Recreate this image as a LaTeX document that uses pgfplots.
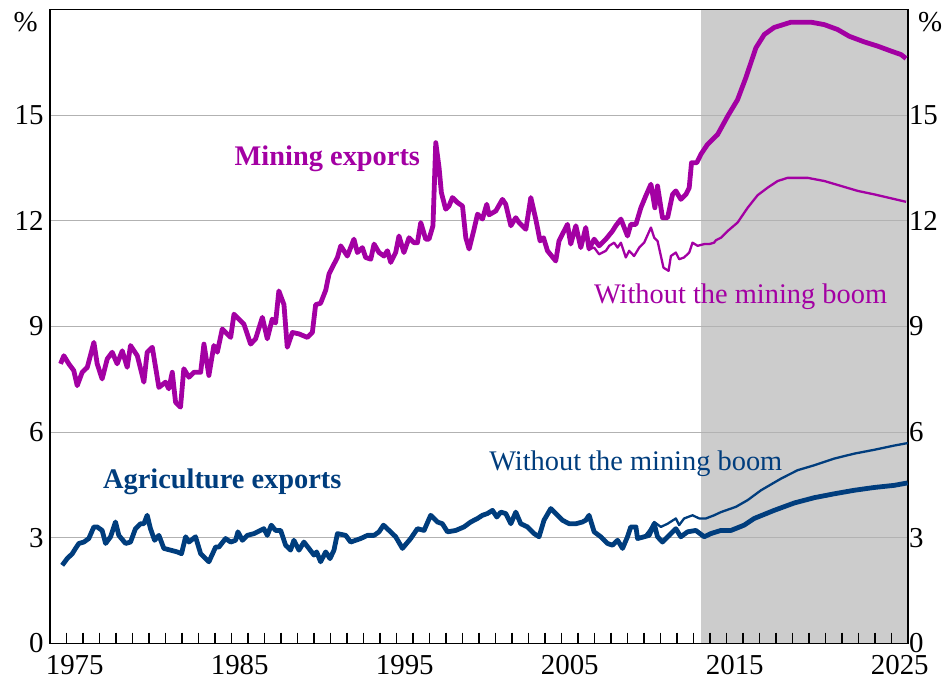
\documentclass[border=0pt]{standalone}
\usepackage{fontspec}
\setmainfont{Liberation Serif}
\usepackage{pgfplots}
\pgfplotsset{compat=1.18}
\definecolor{mpurple}{RGB}{163,0,163}
\definecolor{mblue}{RGB}{0,61,125}
\definecolor{shadec}{RGB}{204,204,204}
\definecolor{gridc}{RGB}{178,178,178}
\begin{document}
\begin{tikzpicture}
\pgfplotsset{every axis/.append style={font=\fontsize{28.5}{32}\selectfont},
  /pgf/number format/assume math mode=true}
\begin{axis}[
  scale only axis, width=858bp, height=634bp,
  xmin=1974, xmax=2026, ymin=0, ymax=18,
  set layers, clip mode=individual,
  axis line style={line width=1.3bp, black},
  xtick={1975.5,1985.5,1995.5,2005.5,2015.5,2025.5},
  xticklabels={1975,1985,1995,2005,2015,2025},
  major tick length=0pt, tick style={draw=none},
  xticklabel style={yshift=-8bp, font=\fontsize{29}{32}\selectfont},
  ytick={0,3,...,15},
  yticklabel style={xshift=-3bp, font=\fontsize{29}{32}\selectfont},
  ymajorgrids, grid style={gridc, line width=1.3bp},
  line join=round,
]
\addplot[fill=shadec, draw=none, on layer=axis background] coordinates {(2013.45,18) (2026,18)} \closedcycle;
% yearly tick marks along the bottom axis (vertical bar markers)
\addplot[only marks, mark=|, mark size=5.5bp, mark options={draw=black, line width=1.6bp}] coordinates {
(1975,0.156) (1976,0.156) (1977,0.156) (1978,0.156) (1979,0.156) (1980,0.156) (1981,0.156) (1982,0.156)
(1983,0.156) (1984,0.156) (1985,0.156) (1986,0.156) (1987,0.156) (1988,0.156) (1989,0.156) (1990,0.156)
(1991,0.156) (1992,0.156) (1993,0.156) (1994,0.156) (1995,0.156) (1996,0.156) (1997,0.156) (1998,0.156)
(1999,0.156) (2000,0.156) (2001,0.156) (2002,0.156) (2003,0.156) (2004,0.156) (2005,0.156) (2006,0.156)
(2007,0.156) (2008,0.156) (2009,0.156) (2010,0.156) (2011,0.156) (2012,0.156) (2013,0.156) (2014,0.156)
(2015,0.156) (2016,0.156) (2017,0.156) (2018,0.156) (2019,0.156) (2020,0.156) (2021,0.156) (2022,0.156)
(2023,0.156) (2024,0.156) (2025,0.156)
};

% Mining without boom (thin)
\addplot[mpurple, line width=2.3bp] coordinates {
(2006.67,11.20) (2006.98,11.24) (2007.28,11.05) (2007.69,11.15) (2007.89,11.29) (2008.19,11.38)
(2008.40,11.24) (2008.60,11.38) (2008.90,10.96) (2009.10,11.15) (2009.40,11.00) (2009.71,11.24)
(2010.01,11.38) (2010.42,11.81) (2010.62,11.52) (2010.82,11.43) (2011.18,10.67) (2011.49,10.58)
(2011.63,11.00) (2011.93,11.10) (2012.13,10.91) (2012.43,10.96) (2012.74,11.10) (2012.94,11.38)
(2013.25,11.29) (2013.65,11.34) (2013.95,11.34) (2014.25,11.38) (2014.36,11.45) (2014.66,11.52)
(2015.07,11.71) (2015.67,11.95) (2016.28,12.37) (2016.89,12.73) (2017.49,12.94) (2018.10,13.13)
(2018.70,13.22) (2019.92,13.22) (2020.93,13.13) (2021.94,12.99) (2022.95,12.85) (2023.96,12.75)
(2024.97,12.64) (2025.88,12.54)
};
% Mining exports (thick)
\addplot[mpurple, line width=4.8bp] coordinates {
(1974.64,7.94) (1974.84,8.17) (1975.14,7.94) (1975.44,7.75) (1975.65,7.32) (1975.95,7.70)
(1976.26,7.84) (1976.66,8.55) (1976.86,7.94) (1977.16,7.51) (1977.47,8.08) (1977.77,8.27)
(1978.07,7.94) (1978.38,8.31) (1978.68,7.84) (1978.88,8.46) (1979.29,8.17) (1979.69,7.42)
(1979.89,8.27) (1980.20,8.41) (1980.60,7.27) (1981.00,7.42) (1981.20,7.23) (1981.41,7.70)
(1981.61,6.85) (1981.91,6.71) (1982.11,7.80) (1982.42,7.56) (1982.72,7.70) (1983.13,7.70)
(1983.33,8.50) (1983.63,7.61) (1983.93,8.46) (1984.14,8.27) (1984.44,8.93) (1984.95,8.69)
(1985.15,9.35) (1985.45,9.21) (1985.75,9.07) (1986.16,8.50) (1986.46,8.65) (1986.87,9.26)
(1987.17,8.65) (1987.47,9.21) (1987.67,9.10) (1987.87,10.01) (1988.18,9.62) (1988.38,8.41)
(1988.69,8.83) (1989.09,8.79) (1989.60,8.69) (1989.90,8.83) (1990.10,9.62) (1990.40,9.66)
(1990.71,10.03) (1990.91,10.49) (1991.21,10.77) (1991.42,10.96) (1991.62,11.29) (1992.02,11.00)
(1992.42,11.48) (1992.63,11.10) (1992.93,11.24) (1993.13,10.96) (1993.44,10.91) (1993.64,11.34)
(1993.94,11.10) (1994.24,11.00) (1994.45,11.15) (1994.65,10.82) (1994.95,11.10) (1995.15,11.57)
(1995.45,11.10) (1995.76,11.52) (1996.06,11.38) (1996.27,11.38) (1996.47,11.95) (1996.77,11.48)
(1996.97,11.48) (1997.21,11.86) (1997.38,14.22) (1997.58,13.51) (1997.72,12.80) (1997.98,12.33)
(1998.18,12.42) (1998.39,12.66) (1998.69,12.52) (1999.00,12.42) (1999.20,11.52) (1999.40,11.20)
(1999.70,11.76) (1999.91,12.19) (2000.21,12.05) (2000.47,12.47) (2000.61,12.17) (2001.02,12.28)
(2001.42,12.61) (2001.62,12.47) (2001.93,11.86) (2002.23,12.09) (2002.43,11.95) (2002.84,11.76)
(2003.14,12.66) (2003.44,12.05) (2003.70,11.43) (2003.91,11.52) (2004.15,11.15) (2004.65,10.86)
(2004.85,11.43) (2005.36,11.90) (2005.56,11.34) (2005.87,11.86) (2006.17,11.24) (2006.47,11.81)
(2006.67,11.20) (2006.98,11.48) (2007.28,11.29) (2007.69,11.48) (2008.09,11.71) (2008.29,11.86)
(2008.60,12.05) (2009.00,11.57) (2009.20,11.90) (2009.51,11.90) (2009.81,12.37) (2010.11,12.71)
(2010.42,13.04) (2010.66,12.37) (2010.82,12.99) (2011.12,12.09) (2011.43,12.09) (2011.73,12.75)
(2011.93,12.85) (2012.23,12.61) (2012.54,12.75) (2012.74,12.94) (2012.88,13.65) (2013.20,13.65)
(2013.45,13.89) (2013.85,14.17) (2014.46,14.45) (2015.07,14.97) (2015.67,15.44) (2016.17,16.06)
(2016.78,16.91) (2017.29,17.29) (2017.89,17.49) (2018.91,17.64) (2020.12,17.64) (2020.93,17.57)
(2021.74,17.43) (2022.44,17.24) (2023.35,17.08) (2024.16,16.96) (2024.97,16.82) (2025.58,16.72)
(2025.88,16.61)
};
% Agriculture without boom (thin)
\addplot[mblue, line width=2.3bp] coordinates {
(2010.01,3.03) (2010.31,3.21) (2010.62,3.45) (2011.02,3.31) (2011.43,3.40) (2011.93,3.55)
(2012.13,3.36) (2012.43,3.55) (2012.94,3.64) (2013.35,3.55) (2013.75,3.55) (2014.25,3.64)
(2014.66,3.73) (2015.57,3.88) (2016.28,4.07) (2017.09,4.35) (2018.30,4.68) (2019.31,4.92)
(2020.32,5.06) (2021.53,5.25) (2022.74,5.39) (2023.96,5.50) (2025.17,5.62) (2025.98,5.69)
};
% Agriculture exports (thick)
\addplot[mblue, line width=4.8bp] coordinates {
(1974.74,2.22) (1975.04,2.41) (1975.35,2.55) (1975.55,2.70) (1975.75,2.84) (1976.05,2.88)
(1976.35,2.98) (1976.66,3.31) (1976.86,3.31) (1977.16,3.21) (1977.37,2.84) (1977.67,3.03)
(1977.97,3.45) (1978.17,3.07) (1978.58,2.84) (1978.88,2.88) (1979.18,3.26) (1979.49,3.40)
(1979.69,3.40) (1979.89,3.64) (1980.09,3.26) (1980.34,2.93) (1980.60,3.07) (1980.90,2.70)
(1981.31,2.65) (1981.71,2.60) (1981.97,2.55) (1982.22,3.03) (1982.42,2.88) (1982.82,3.03)
(1983.13,2.55) (1983.63,2.32) (1984.04,2.74) (1984.24,2.74) (1984.64,2.98) (1984.95,2.88)
(1985.25,2.93) (1985.39,3.17) (1985.66,2.93) (1985.96,3.07) (1986.36,3.12) (1986.96,3.26)
(1987.17,3.07) (1987.41,3.36) (1987.67,3.21) (1987.98,3.21) (1988.28,2.79) (1988.58,2.65)
(1988.78,2.93) (1989.09,2.65) (1989.39,2.88) (1989.69,2.70) (1990.00,2.51) (1990.16,2.60)
(1990.40,2.32) (1990.71,2.60) (1990.97,2.41) (1991.21,2.65) (1991.42,3.12) (1991.92,3.07)
(1992.22,2.88) (1992.83,2.98) (1993.24,3.07) (1993.64,3.07) (1993.94,3.17) (1994.21,3.36)
(1994.55,3.21) (1994.95,3.03) (1995.36,2.70) (1995.86,2.98) (1996.27,3.26) (1996.67,3.21)
(1997.07,3.64) (1997.48,3.45) (1997.78,3.40) (1998.09,3.17) (1998.59,3.21) (1999.09,3.31)
(1999.50,3.45) (1999.91,3.55) (2000.21,3.64) (2000.51,3.69) (2000.82,3.78) (2001.08,3.59)
(2001.32,3.73) (2001.62,3.69) (2001.93,3.40) (2002.23,3.73) (2002.53,3.40) (2002.94,3.31)
(2003.34,3.12) (2003.64,3.03) (2003.94,3.50) (2004.35,3.83) (2004.65,3.69) (2005.06,3.50)
(2005.46,3.40) (2005.87,3.40) (2006.27,3.45) (2006.47,3.50) (2006.67,3.64) (2006.98,3.17)
(2007.38,3.03) (2007.79,2.84) (2008.09,2.79) (2008.40,2.93) (2008.70,2.70) (2009.00,3.03)
(2009.20,3.31) (2009.51,3.31) (2009.61,2.98) (2010.01,3.03) (2010.31,3.07) (2010.62,3.40)
(2010.82,3.03) (2011.12,2.88) (2011.53,3.07) (2011.93,3.26) (2012.23,3.03) (2012.64,3.17)
(2013.14,3.21) (2013.65,3.03) (2014.05,3.12) (2014.66,3.21) (2015.27,3.21) (2016.07,3.36)
(2016.68,3.55) (2017.89,3.78) (2019.11,3.99) (2020.32,4.14) (2021.53,4.25) (2022.74,4.35)
(2023.96,4.43) (2025.17,4.49) (2025.98,4.56)
};

\node[anchor=base, text=mpurple, font=\fontsize{28.5}{32}\selectfont\bfseries] at (axis cs:1990.81,13.56) {Mining exports};
\node[anchor=base west, inner sep=0, text=mpurple] at (axis cs:2006.96,9.64) {Without the mining boom};
\node[anchor=base, text=mblue, font=\fontsize{28.5}{32}\selectfont\bfseries] at (axis cs:1984.44,4.40) {Agriculture exports};
\node[anchor=base west, inner sep=0, text=mblue] at (axis cs:2000.61,4.92) {Without the mining boom};
\node[anchor=north east, inner sep=0, font=\fontsize{29}{32}\selectfont] at ([xshift=-12bp,yshift=-3bp]rel axis cs:0,1) {\%};
\node[anchor=north west, inner sep=0, font=\fontsize{29}{32}\selectfont] at ([xshift=10bp,yshift=-3bp]rel axis cs:1,1) {\%};
\end{axis}
\begin{axis}[
  scale only axis, width=858bp, height=634bp,
  xmin=1974, xmax=2026, ymin=0, ymax=18,
  xtick=\empty, axis line style={draw=none},
  ytick={0,3,...,15}, major tick length=0pt, tick style={draw=none},
  yticklabel pos=right, yticklabel style={xshift=-2.5bp, font=\fontsize{29}{32}\selectfont},
]
\addplot[draw=none] coordinates {(1974,0) (2026,18)};
\end{axis}
\path (-50bp,-44.5bp) rectangle (899bp,643.5bp);
\end{tikzpicture}
\end{document}
